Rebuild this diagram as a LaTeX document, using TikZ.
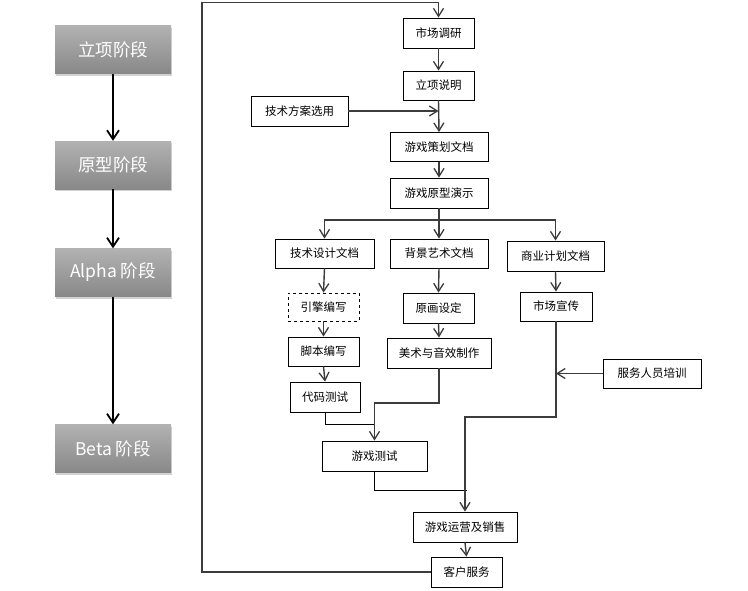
\documentclass[tikz,border=0pt]{standalone}
\usepackage{fontspec}
\setmainfont{Noto Sans CJK SC}
\usetikzlibrary{arrows.meta,shadows}
\definecolor{lineg}{RGB}{60,60,60}
\definecolor{stagetop}{RGB}{178,178,178}
\definecolor{stagebot}{RGB}{136,136,136}
\tikzset{
  stage/.style={minimum width=116pt,minimum height=48pt,inner sep=0pt,
    top color=stagetop,bottom color=stagebot,draw=none,text=white,
    font=\fontsize{17.5}{20}\selectfont,
    drop shadow={shadow xshift=1pt,shadow yshift=-2pt,opacity=0.35}},
  box/.style={draw=black,line width=0.9pt,fill=white,inner sep=0pt,
    font=\fontsize{11.5}{13}\selectfont},
  stagearrow/.style={draw=black,line width=2pt,-{Straight Barb[length=9pt,width=12pt,line width=1.8pt]}},
  flow/.style={draw=lineg,line width=1.4pt},
  flowarrow/.style={flow,-{Straight Barb[length=8pt,width=10pt,line width=1.3pt]}},
  thin/.style={draw=black,line width=1pt}
}
\begin{document}
\begin{tikzpicture}[x=1pt,y=-1pt]
\useasboundingbox (0,0) rectangle (748,590);
\fill[white] (0,0) rectangle (748,590);
% stages
\node[stage] (s1) at (113,49.5) {立项阶段};
\node[stage] (s2) at (113,165) {原型阶段};
\node[stage] (s3) at (113,272.5) {Alpha 阶段};
\node[stage] (s4) at (113,448.5) {Beta 阶段};
\draw[stagearrow] (s1.south) -- (s2.north);
\draw[stagearrow] (s2.south) -- (s3.north);
\draw[stagearrow] (s3.south) -- (s4.north);
% flow boxes
\node[box,minimum width=71pt,minimum height=30pt] (mkt) at (438.5,33) {市场调研};
\node[box,minimum width=71pt,minimum height=29pt] (lx) at (438.5,85.5) {立项说明};
\node[box,minimum width=97pt,minimum height=30pt] (tech) at (299.5,111) {技术方案选用};
\node[box,minimum width=98pt,minimum height=29pt] (plan) at (439,147) {游戏策划文档};
\node[box,minimum width=98pt,minimum height=30pt] (proto) at (439,193) {游戏原型演示};
\node[box,minimum width=99pt,minimum height=29pt] (tdd) at (324.5,253.5) {技术设计文档};
\node[box,minimum width=98pt,minimum height=29pt] (bg) at (439,253.5) {背景艺术文档};
\node[box,minimum width=97pt,minimum height=30pt] (biz) at (555.5,256) {商业计划文档};
\node[box,dashed,line width=0.8pt,minimum width=71pt,minimum height=28pt] (eng) at (323.5,307) {引擎编写};
\node[box,minimum width=71pt,minimum height=29pt] (scr) at (323.5,351.5) {脚本编写};
\node[box,minimum width=70pt,minimum height=30pt] (code) at (325,397) {代码测试};
\node[box,minimum width=71pt,minimum height=30pt] (art) at (438.5,308) {原画设定};
\node[box,minimum width=104pt,minimum height=30pt] (sfx) at (439,353) {美术与音效制作};
\node[box,minimum width=72pt,minimum height=29pt] (promo) at (556,306.5) {市场宣传};
\node[box,minimum width=98pt,minimum height=29pt] (train) at (652,373.5) {服务人员培训};
\node[box,minimum width=105pt,minimum height=30pt] (test) at (374.5,456) {游戏测试};
\node[box,minimum width=104pt,minimum height=30pt] (ops) at (465,527) {游戏运营及销售};
\node[box,minimum width=71pt,minimum height=30pt] (cs) at (466.5,572) {客户服务};
% coordinates
\coordinate (lp) at (202,2.5);
\coordinate (br) at (439,220);
\coordinate (j1) at (375,424);
\coordinate (j2) at (439,403);
\coordinate (j3) at (467,490);
\coordinate (j4) at (556,417);
% connectors
\draw[flowarrow] (cs.west) -| (lp) -| (mkt.north);
\draw[flowarrow] (mkt.south) -- (lx.north);
\draw[flowarrow] (lx.south) -- (plan.north);
\draw[flowarrow] (tech.east) -- (tech.east -| lx.south);
\draw[flowarrow] (plan.south) -- (proto.north);
\draw[flow] (proto.south) -- (br);
\draw[flowarrow] (br) -| (tdd.north);
\draw[flowarrow] (br) -| (biz.north);
\draw[flowarrow] (br) -- (bg.north);
\draw[flowarrow] (tdd.south) -- (eng.north);
\draw[flowarrow] (eng.south) -- (scr.north);
\draw[flowarrow] (scr.south) -- (code.north);
\draw[flowarrow] (bg.south) -- (art.north);
\draw[flowarrow] (art.south) -- (sfx.north);
\draw[flowarrow] (biz.south) -- (promo.north);
\draw[thin] (code.south) |- (j1);
\draw[flowarrow] (sfx.south) -- (j2) -| (test.north);
\draw[thin] (test.south) |- (j3);
\draw[flowarrow] (promo.south) -- (j4) -| (ops.north);
\draw[flowarrow] (train.west) -- (train.west -| promo.south);
\draw[flowarrow] (ops.south) -- (cs.north);
\end{tikzpicture}
\end{document}
